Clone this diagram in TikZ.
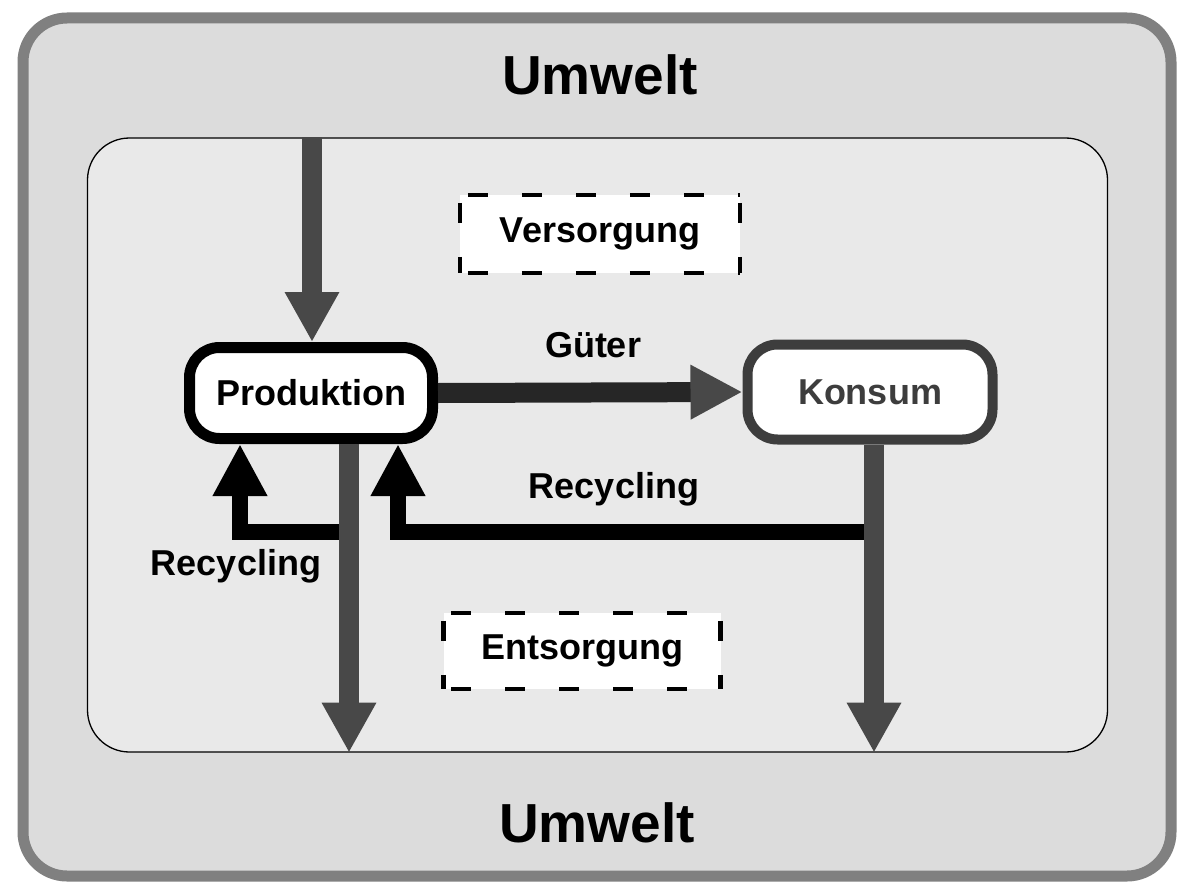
\documentclass[tikz,border=0pt]{standalone}
\usepackage{fontspec}
\setmainfont{Liberation Sans}
\usetikzlibrary{arrows.meta,calc}
\definecolor{outerfill}{HTML}{DCDCDC}
\definecolor{outerline}{HTML}{808080}
\definecolor{innerfill}{HTML}{E9E9E9}
\definecolor{flow}{HTML}{484848}
\definecolor{konsumgray}{HTML}{3D3D3D}
\begin{document}
\begin{tikzpicture}[x=1pt,y=-1pt,
  lbl/.style={font=\fontsize{36}{40}\selectfont\bfseries, inner sep=0pt, anchor=base},
  big/.style={font=\fontsize{55}{60}\selectfont\bfseries, inner sep=0pt, anchor=base},
  proc/.style={draw, line width=11pt, rounded corners=30pt, fill=white,
    minimum width=243pt, minimum height=91pt, inner sep=0pt,
    font=\fontsize{36}{40}\selectfont\bfseries},
  dbox/.style={fill=white, inner sep=0pt, font=\fontsize{36}{40}\selectfont\bfseries},
  dline/.style={draw=black, line width=4.5pt, dash pattern=on 20pt off 34pt, dash phase=-8pt},
  flowarrow/.style={draw=flow, line width=20pt, -{Triangle[length=50pt,width=51pt]}},
  recarrow/.style={draw=black, line width=16pt, line join=miter, -{Triangle[length=52pt,width=51pt]}},
  guterarrow/.style={draw=black!85, line width=20pt, -{Triangle[length=52pt,width=51pt,color=flow]}}
]
\useasboundingbox (0,0) rectangle (1180,888);
% frames
\draw[draw=outerline, fill=outerfill, line width=11pt, rounded corners=44pt] (23,18) rectangle (1171,876);
\node[draw=black, fill=innerfill, line width=1.3pt, rounded corners=42pt,
  minimum width=1020pt, minimum height=614pt, inner sep=0pt] (inner) at (597.5,445) {};

% headings
\node[big] (umweltTop) at (600,95) {Umwelt};
\node[big] (umweltBot) at (597,842) {Umwelt};

% dashed boxes
\node[dbox, minimum width=280pt, minimum height=78pt] (versorgung) at (600,234) {Versorgung};
\node[dbox, minimum width=277pt, minimum height=76pt] (entsorgung) at (582,651) {Entsorgung};
\draw[dline] (versorgung.north west) -- (versorgung.north east);
\draw[dline] (versorgung.south west) -- (versorgung.south east);
\draw[dline] (versorgung.north west) -- (versorgung.south west);
\draw[dline] (versorgung.north east) -- (versorgung.south east);
\draw[dline] (entsorgung.north west) -- (entsorgung.north east);
\draw[dline] (entsorgung.south west) -- (entsorgung.south east);
\draw[dline] (entsorgung.north west) -- (entsorgung.south west);
\draw[dline] (entsorgung.north east) -- (entsorgung.south east);

% process nodes
\node[proc] (prod) at (311,393) {Produktion};
\node[proc, draw=konsumgray, text=konsumgray, line width=10pt, minimum width=245pt, minimum height=95pt] (konsum) at (870,392) {Konsum};

% coordinates
\coordinate (topIn) at (inner.north -| 312,0);
\coordinate (prodTop) at (prod.north -| 312,0);
\coordinate (prodOut) at (prod.south -| 349,0);
\coordinate (prodDown) at (inner.south -| 349,0);
\coordinate (konOut) at (konsum.south -| 874,0);
\coordinate (konDown) at (inner.south -| 874,0);
\coordinate (recLa) at (349,532);
\coordinate (recLb) at (240,532);
\coordinate (recLc) at (prod.south -| 240,0);
\coordinate (recRa) at (874,532);
\coordinate (recRb) at (398,532);
\coordinate (recRc) at (prod.south -| 398,0);

% recycling (under the gray flows)
\draw[recarrow] (recLa) -- (recLb) -- (recLc);
\draw[recarrow] (recRa) -- (recRb) -- (recRc);

% flows
\draw[flowarrow] (topIn) -- (prodTop);
\draw[flowarrow] (prodOut) -- (prodDown);
\draw[flowarrow] (konOut) -- (konDown);
\draw[guterarrow] (prod.east) -- (konsum.west);

% labels
\node[lbl] (lblGueter) at (593,357) {Güter};
\node[lbl] (lblRecR) at (614,498) {Recycling};
\node[lbl] (lblRecL) at (236,575) {Recycling};
\end{tikzpicture}
\end{document}
